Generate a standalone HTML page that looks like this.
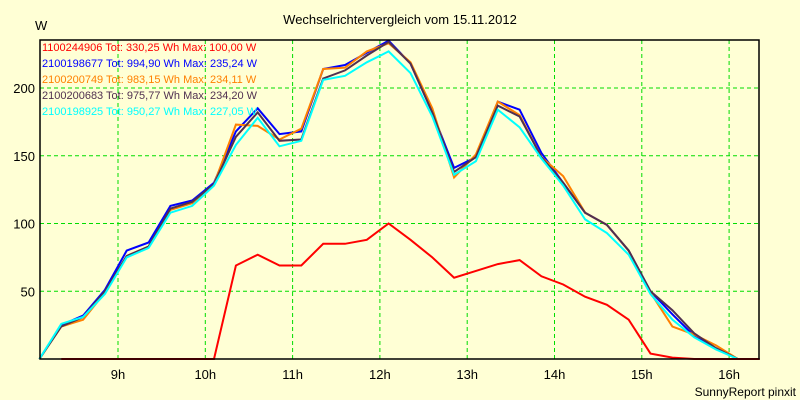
<!DOCTYPE html>
<html><head><meta charset="utf-8"><style>
body{margin:0;background:#ffffd5;}
svg{display:block;font-family:"Liberation Sans",sans-serif;}
</style></head><body>
<svg width="800" height="400" id="c">
<rect width="800" height="400" fill="#ffffd5"/>
<text x="400" y="24" font-size="13" text-anchor="middle">Wechselrichtervergleich vom 15.11.2012</text>
<text x="35" y="30" font-size="13">W</text>
<text x="796" y="396" font-size="12" text-anchor="end">SunnyReport pinxit</text>
<g id="grid"></g><g id="series"></g><g id="axes"></g><g id="legend"></g>
</svg>
<script>
const yTicks=[50,100,150,200];
const xTickLabels=["9h","10h","11h","12h","13h","14h","15h","16h"];
const xTickHours=[9,10,11,12,13,14,15,16];
const startHour=8.1; const stepHour=0.25;
const red=[null,0,0,0,0,0,0,0,0,69,77,69,69,85,85,88,100,88,75,60,65,70,73,61,55,46,40,29,4,1,0,0,0,0];
const blue=[0,25,32,51,80,86,113,117,130,168,185,166,168,214,217,226,235,218,182,141,149,190,184,152,130,108,99,80,50,33,17,8,0,0];
const orange=[0,24,29,49,76,83,110,115,129,173,172,162,170,214,215,227,233,219,185,134,151,190,180,149,135,108,99,80,49,24,18,10,0,0];
const brown=[0,24,31,50,76,83,111,116,129,164,182,161,162,207,213,224,234,218,182,138,149,187,179,149,130,108,99,80,50,36,19,8,0,0];
const cyan=[0,26,31,48,75,82,108,113,128,158,178,157,161,206,209,219,227,211,179,136,146,184,171,148,128,103,93,77,48,29,16,7,0,0];
const seriesNames=["series-1100244906","series-2100198677","series-2100200749","series-2100200683","series-2100198925"];
const seriesColors=["#ff0000","#0000ff","#ff8000","#503050","#00ffff"];
const legendTexts=["1100244906 Tot: 330,25 Wh Max: 100,00 W","2100198677 Tot: 994,90 Wh Max: 235,24 W","2100200749 Tot: 983,15 Wh Max: 234,11 W","2100200683 Tot: 975,77 Wh Max: 234,20 W","2100198925 Tot: 950,27 Wh Max: 227,05 W"];
const L=40,R=759,T=40,B=359;
const xS=h=>118+(h-9)*87.3;
const yS=v=>B-v*1.355;
const NS="http://www.w3.org/2000/svg";
function mk(t,a,p){const e=document.createElementNS(NS,t);for(const k in a)e.setAttribute(k,a[k]);p.appendChild(e);return e;}
const grid=document.getElementById('grid'),axes=document.getElementById('axes'),ser=document.getElementById('series'),leg=document.getElementById('legend');
yTicks.forEach(v=>{const l=mk('line',{x1:L,x2:R,y1:yS(v),y2:yS(v),stroke:'#00dd00','stroke-dasharray':'4,3'},grid);


const t=mk('text',{x:35,y:yS(v)+5,'font-size':13,'text-anchor':'end'},axes);t.textContent=v;

});
xTickHours.forEach((h,i)=>{const l=mk('line',{x1:xS(h),x2:xS(h),y1:T,y2:B,stroke:'#00dd00','stroke-dasharray':'4,3'},grid);


const t=mk('text',{x:xS(h),y:379,'font-size':13,'text-anchor':'middle'},axes);t.textContent=xTickLabels[i];

});
const fr=mk('rect',{x:L,y:T,width:R-L,height:B-T,fill:'none',stroke:'#000','stroke-width':1.5},axes);


const all=[red,blue,orange,brown,cyan];
const order=[1,2,3,4,0];
order.forEach(si=>{const d=all[si];const pts=d.map((v,i)=>v===null?null:xS(startHour+i*stepHour).toFixed(1)+','+yS(v).toFixed(1)).filter(s=>s).join(' ');
const p=mk('polyline',{points:pts,fill:'none',stroke:seriesColors[si],'stroke-width':2,'stroke-linejoin':'miter'},ser);

});
legendTexts.forEach((s,i)=>{const t=mk('text',{x:42,y:51+i*16,'font-size':11,fill:seriesColors[i]},leg);t.textContent=s;

});
</script>
</body></html>
